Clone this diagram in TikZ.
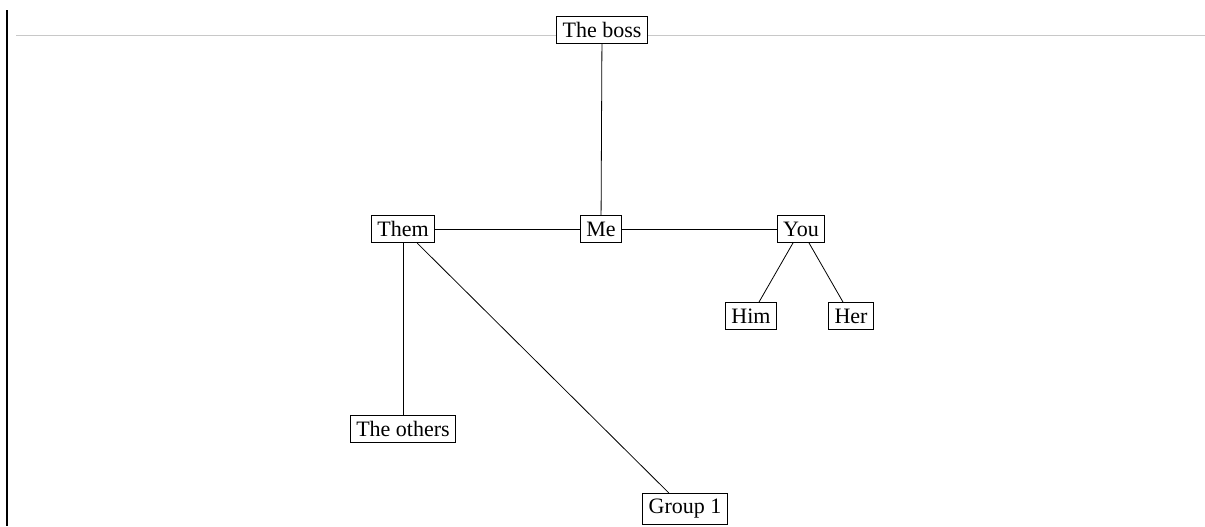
\documentclass[tikz,border=0pt]{standalone}
\usepackage{fontspec}
\setmainfont{Liberation Serif}
\tikzset{
  box/.style={draw, fill=white, line width=0.4pt, inner sep=3pt, font=\fontsize{11}{13}\selectfont},
  link/.style={draw, line width=0.4pt}
}
\begin{document}
\begin{tikzpicture}[x=0.5pt,y=-0.5pt]
\useasboundingbox (0,0) rectangle (1205,526);
\coordinate (vtop) at (7,10);
\coordinate (vbot) at (7,526);
\draw[line width=0.8pt] (vtop) -- (vbot);
\coordinate (hl) at (16,35);
\coordinate (hr) at (1205,35);
\draw[line width=0.5pt, draw={rgb,255:red,200;green,200;blue,200}] (hl) -- (hr);
\node[box] (boss) at (602,30) {The boss};
\node[box] (them) at (403,229) {Them};
\node[box] (me) at (601,229) {Me};
\node[box] (you) at (801,229) {You};
\node[box] (him) at (751,316) {Him};
\node[box] (her) at (851,316) {Her};
\node[box] (others) at (403,429) {The others};
\node[box] (group) at (685,509) {Group 1};
\draw[link] (boss) -- (me);
\draw[link] (them) -- (me);
\draw[link] (me) -- (you);
\draw[link] (you) -- (him);
\draw[link] (you) -- (her);
\draw[link] (them) -- (others);
\draw[link] (them) -- (group);
\end{tikzpicture}
\end{document}
